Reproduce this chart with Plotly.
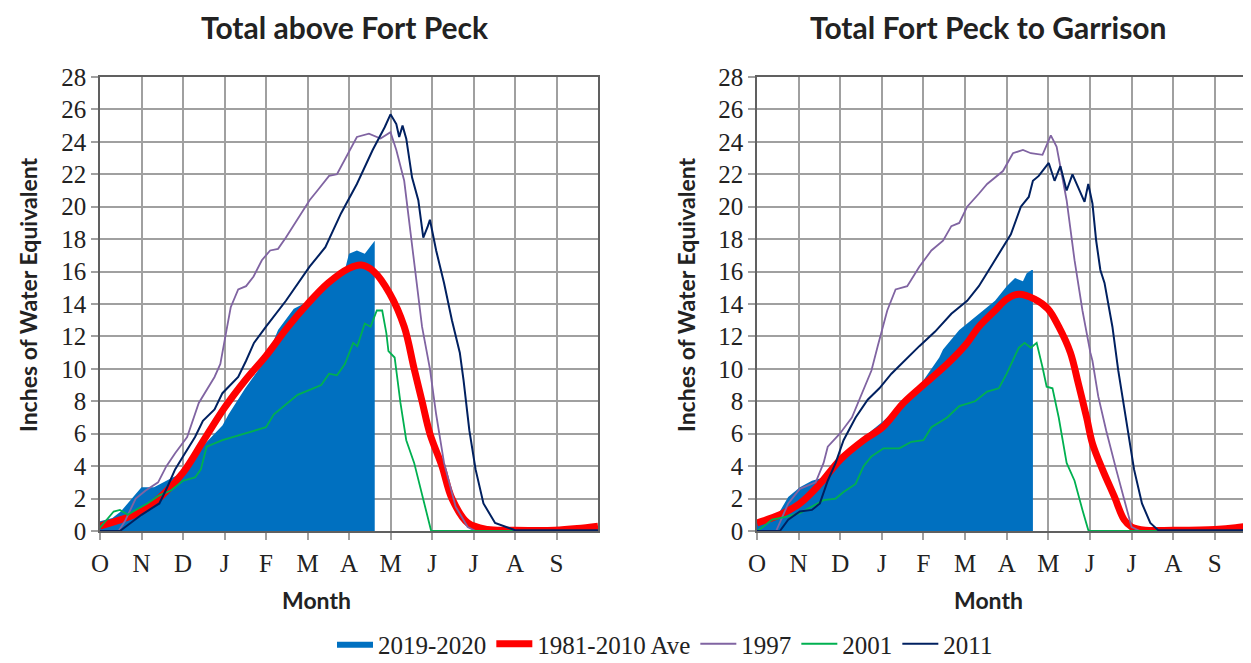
import plotly.graph_objects as go

# x = months since Oct 1 (water year), y = inches of snow water equivalent
month_ticks = [0, 1, 2, 3, 4, 5, 6, 7, 8, 9, 10, 11]
month_labels = ["O", "N", "D", "J", "F", "M", "A", "M", "J", "J", "A", "S"]
y_ticks = list(range(0, 29, 2))

# ---- Total above Fort Peck ----
fp_cur_x = [0, 0.3, 0.5, 0.86, 1.0, 1.3, 1.52, 1.75, 2.0, 2.5, 2.95, 3.1, 3.5, 4.0, 4.29, 4.67, 5.05, 5.43, 5.62, 5.9, 6.0, 6.19, 6.38, 6.5, 6.62]
fp_cur_y = [0.6, 0.8, 1.2, 2.3, 2.7, 2.7, 3.0, 3.3, 3.6, 5.3, 6.5, 7.2, 8.8, 10.6, 12.4, 13.7, 14.2, 15.4, 15.6, 16.1, 17.1, 17.3, 17.1, 17.5, 17.9]

fp_avg_x = [0, 0.5, 1.0, 1.5, 2.0, 2.5, 3.0, 3.5, 4.0, 4.5, 5.0, 5.5, 6.0, 6.3, 6.6, 6.98, 7.33, 7.57, 7.76, 7.95, 8.24, 8.48, 8.86, 9.33, 10.0, 10.95, 11.5, 12.0]
fp_avg_y = [0.3, 0.7, 1.2, 2.2, 3.6, 5.6, 7.6, 9.3, 10.8, 12.5, 14.0, 15.3, 16.2, 16.4, 16.0, 14.65, 12.6, 10.0, 8.0, 6.0, 4.0, 2.0, 0.5, 0.1, 0.05, 0.05, 0.15, 0.3]

fp_1997_x = [0, 0.45, 0.6, 0.86, 1.1, 1.4, 1.6, 1.81, 2.1, 2.38, 2.76, 2.9, 3.05, 3.15, 3.33, 3.52, 3.7, 3.9, 4.1, 4.29, 4.48, 4.86, 5.05, 5.24, 5.52, 5.71, 5.9, 6.19, 6.48, 6.76, 7.0, 7.14, 7.33, 7.57, 7.76, 7.95, 8.1, 8.29, 8.57, 8.86, 9.05, 12.0]
fp_1997_y = [0, 0, 0.6, 2.0, 2.5, 3.0, 4.0, 4.8, 5.8, 7.9, 9.5, 10.3, 12.4, 13.8, 14.9, 15.1, 15.7, 16.7, 17.3, 17.4, 18.1, 19.6, 20.4, 21.0, 21.9, 22.0, 22.9, 24.3, 24.5, 24.2, 24.6, 23.5, 21.6, 16.7, 12.6, 10.0, 7.2, 4.2, 1.5, 0.25, 0, 0]

fp_2001_x = [0, 0.33, 0.48, 0.67, 0.86, 1.14, 1.43, 1.71, 2.0, 2.29, 2.43, 2.57, 2.95, 3.33, 3.71, 4.0, 4.19, 4.48, 4.76, 5.14, 5.33, 5.52, 5.71, 5.9, 6.1, 6.2, 6.38, 6.52, 6.67, 6.8, 6.9, 6.95, 7.1, 7.24, 7.38, 7.57, 7.71, 7.86, 7.98, 12.0]
fp_2001_y = [0.2, 1.2, 1.3, 1.0, 1.3, 1.7, 2.2, 2.5, 3.1, 3.3, 3.8, 5.2, 5.6, 5.9, 6.2, 6.4, 7.2, 7.8, 8.4, 8.8, 9.0, 9.7, 9.6, 10.3, 11.6, 11.4, 12.8, 12.6, 13.6, 13.6, 12.2, 11.1, 10.7, 7.9, 5.6, 4.2, 2.7, 1.1, 0, 0]

fp_2011_x = [0, 0.48, 1.0, 1.43, 1.62, 1.81, 2.0, 2.29, 2.48, 2.76, 2.95, 3.33, 3.52, 3.71, 4.0, 4.48, 5.05, 5.43, 5.81, 6.19, 6.57, 6.86, 7.0, 7.14, 7.21, 7.29, 7.38, 7.52, 7.67, 7.79, 7.9, 7.95, 8.1, 8.29, 8.48, 8.67, 8.76, 8.9, 9.05, 9.24, 9.52, 10.0, 12.0]
fp_2011_y = [0, 0, 1.0, 1.7, 2.7, 3.8, 4.6, 5.8, 6.8, 7.5, 8.5, 9.5, 10.5, 11.6, 12.6, 14.2, 16.3, 17.5, 19.6, 21.4, 23.5, 24.9, 25.7, 25.1, 24.3, 25.0, 24.2, 21.8, 20.4, 18.1, 18.8, 19.2, 17.3, 15.3, 13.0, 11.0, 9.3, 6.2, 3.8, 1.7, 0.5, 0.05, 0.05]

# ---- Total Fort Peck to Garrison ----
fg_cur_x = [0, 0.2, 0.5, 0.75, 1.03, 1.32, 1.6, 2.0, 2.47, 3.0, 3.52, 4.0, 4.38, 4.47, 4.86, 5.33, 5.72, 6.0, 6.2, 6.39, 6.48, 6.6, 6.63]
fg_cur_y = [0.5, 0.8, 1.0, 2.1, 2.7, 3.1, 3.3, 4.2, 5.6, 6.7, 7.9, 9.3, 10.7, 11.2, 12.4, 13.4, 14.2, 15.1, 15.6, 15.4, 15.9, 16.1, 16.1]

fg_avg_x = [0, 0.55, 1.03, 1.51, 2.0, 2.56, 3.02, 3.52, 4.04, 4.57, 5.02, 5.33, 5.72, 6.0, 6.29, 6.67, 6.99, 7.25, 7.53, 7.72, 7.92, 8.06, 8.3, 8.59, 8.82, 9.0, 9.33, 10.0, 11.0, 11.5, 11.9]
fg_avg_y = [0.5, 1.0, 1.7, 2.9, 4.4, 5.6, 6.4, 7.9, 9.1, 10.3, 11.5, 12.6, 13.6, 14.3, 14.6, 14.3, 13.7, 12.6, 11.0, 9.1, 7.0, 5.4, 3.8, 2.1, 0.7, 0.25, 0.05, 0.05, 0.1, 0.2, 0.35]

fg_1997_x = [0, 0.46, 0.75, 1.03, 1.41, 1.6, 1.7, 1.99, 2.28, 2.56, 2.75, 2.9, 2.94, 3.13, 3.33, 3.61, 3.9, 4.19, 4.47, 4.67, 4.86, 5.05, 5.33, 5.53, 5.91, 6.15, 6.39, 6.58, 6.86, 7.06, 7.2, 7.44, 7.63, 7.82, 8.01, 8.06, 8.2, 8.39, 8.63, 8.87, 9.0, 9.2, 12.0]
fg_1997_y = [0, 0, 1.7, 2.6, 3.0, 4.2, 5.2, 6.0, 7.0, 8.7, 9.9, 11.4, 11.8, 13.6, 14.9, 15.1, 16.3, 17.3, 17.9, 18.8, 19.0, 20.0, 20.8, 21.4, 22.2, 23.3, 23.5, 23.3, 23.2, 24.4, 23.7, 20.4, 16.7, 13.6, 11.0, 10.5, 8.3, 6.2, 3.8, 1.5, 0.25, 0, 0]

fg_2001_x = [0, 0.17, 0.36, 0.75, 1.03, 1.32, 1.6, 1.89, 2.08, 2.37, 2.56, 2.75, 3.04, 3.42, 3.71, 4.0, 4.19, 4.57, 4.86, 5.24, 5.53, 5.81, 6.0, 6.29, 6.43, 6.58, 6.72, 6.86, 6.96, 7.1, 7.25, 7.44, 7.63, 7.82, 7.96, 8.01, 12.0]
fg_2001_y = [0, 0.3, 0.7, 0.9, 1.1, 1.5, 1.9, 2.0, 2.4, 2.9, 4.0, 4.6, 5.1, 5.1, 5.5, 5.6, 6.4, 7.0, 7.7, 8.0, 8.6, 8.8, 9.7, 11.3, 11.6, 11.3, 11.6, 10.1, 8.9, 8.8, 7.0, 4.2, 3.1, 1.3, 0.06, 0, 0]

fg_2011_x = [0, 0.55, 0.75, 1.03, 1.32, 1.51, 1.7, 1.89, 2.08, 2.37, 2.66, 2.94, 3.23, 3.61, 3.9, 4.28, 4.67, 5.05, 5.33, 5.62, 5.91, 6.1, 6.34, 6.53, 6.63, 6.77, 7.01, 7.15, 7.29, 7.44, 7.58, 7.72, 7.87, 7.96, 8.06, 8.15, 8.25, 8.35, 8.54, 8.68, 8.87, 9.06, 9.25, 9.45, 9.64, 12.0]
fg_2011_y = [0, 0, 0.7, 1.2, 1.3, 1.7, 3.1, 4.2, 5.6, 7.0, 8.1, 8.8, 9.7, 10.7, 11.4, 12.3, 13.4, 14.2, 15.1, 16.3, 17.5, 18.3, 20.0, 20.6, 21.6, 21.9, 22.7, 21.6, 22.5, 21.0, 22.0, 21.2, 20.3, 21.4, 20.2, 17.9, 16.1, 15.3, 12.6, 9.9, 6.8, 3.8, 1.7, 0.5, 0.05, 0.05]

panels = [
    ("x", "y", True, [fp_cur_x, fp_cur_y, fp_avg_x, fp_avg_y, fp_1997_x, fp_1997_y,
                      fp_2001_x, fp_2001_y, fp_2011_x, fp_2011_y]),
    ("x2", "y2", False, [fg_cur_x, fg_cur_y, fg_avg_x, fg_avg_y, fg_1997_x, fg_1997_y,
                         fg_2001_x, fg_2001_y, fg_2011_x, fg_2011_y]),
]

fig = go.Figure()
for xa, ya, show, d in panels:
    fig.add_trace(go.Scatter(x=d[0], y=d[1], name="2019-2020", fill="tozeroy",
                             fillcolor="#0070C0", mode="lines", line=dict(width=0, color="#0070C0"),
                             xaxis=xa, yaxis=ya, showlegend=show))
    fig.add_trace(go.Scatter(x=d[2], y=d[3], name="1981-2010 Ave", mode="lines",
                             line=dict(color="#FF0000", width=7, shape="spline"),
                             xaxis=xa, yaxis=ya, showlegend=show))
    fig.add_trace(go.Scatter(x=d[4], y=d[5], name="1997", mode="lines",
                             line=dict(color="#8064A2", width=1.8),
                             xaxis=xa, yaxis=ya, showlegend=show))
    fig.add_trace(go.Scatter(x=d[6], y=d[7], name="2001", mode="lines",
                             line=dict(color="#00B050", width=1.8),
                             xaxis=xa, yaxis=ya, showlegend=show))
    fig.add_trace(go.Scatter(x=d[8], y=d[9], name="2011", mode="lines",
                             line=dict(color="#002060", width=2),
                             xaxis=xa, yaxis=ya, showlegend=show))

# the page body adds an 8px margin, so the figure is drawn 8px in from the corner
OFF = 8
W, H = 1251 - OFF, 663 - OFF
tick_font = dict(family="Liberation Serif", size=25, color="#222")
grid = "#A0A0A0"
common_x = dict(tickvals=month_ticks, ticktext=month_labels, tickfont=tick_font,
                showgrid=True, gridcolor=grid, gridwidth=2, ticks="outside", ticklen=7,
                tickcolor=grid, tickwidth=2, showline=True, linecolor="#606060", linewidth=1.5,
                mirror=True, zeroline=False, ticklabelstandoff=2, automargin=False)
common_y = dict(tickvals=y_ticks, tickfont=tick_font, range=[0, 28],
                showgrid=True, gridcolor=grid, gridwidth=2, ticks="outside", ticklen=7,
                tickcolor=grid, tickwidth=2, showline=True, linecolor="#606060", linewidth=1.5,
                mirror=True, zeroline=False, automargin=False)


def px_x(v):
    return (v - OFF) / W


def px_y(v):
    return 1 - (v - OFF) / H


y_dom = [px_y(531), px_y(77)]
fig.update_layout(
    width=W, height=H,
    margin=dict(l=0, r=0, t=0, b=0, autoexpand=False),
    plot_bgcolor="white", paper_bgcolor="white",
    xaxis=dict(domain=[px_x(100), px_x(598)], range=[0, 12], anchor="y", **common_x),
    yaxis=dict(domain=y_dom, anchor="x", **common_y),
    xaxis2=dict(domain=[px_x(757), 1.0], range=[0, 11.87], anchor="y2", **common_x),
    yaxis2=dict(domain=y_dom, anchor="x2", **common_y),
    legend=dict(orientation="h", x=px_x(665), xanchor="center", y=px_y(644), yanchor="middle",
                font=dict(family="Liberation Serif", size=25, color="#222"),
                itemwidth=36, tracegroupgap=0, bgcolor="rgba(0,0,0,0)"),
)

bold = dict(family="Lato", size=30, color="#222")
label = dict(family="Lato", size=23, color="#222")
notes = [
    ("<b>Total above Fort Peck</b>", 345, 27, bold, 0),
    ("<b>Total Fort Peck to Garrison</b>", 988, 27, bold, 0),
    ("<b>Inches of Water Equivalent</b>", 28, 295, label, -90),
    ("<b>Inches of Water Equivalent</b>", 686, 295, label, -90),
    ("<b>Month</b>", 316, 600, label, 0),
    ("<b>Month</b>", 988, 600, label, 0),
]
for text, px_, py_, font, ang in notes:
    fig.add_annotation(text=text, x=px_x(px_), y=px_y(py_), xref="paper", yref="paper",
                       showarrow=False, font=font, textangle=ang,
                       xanchor="center", yanchor="middle")

fig.write_html("out.html")
